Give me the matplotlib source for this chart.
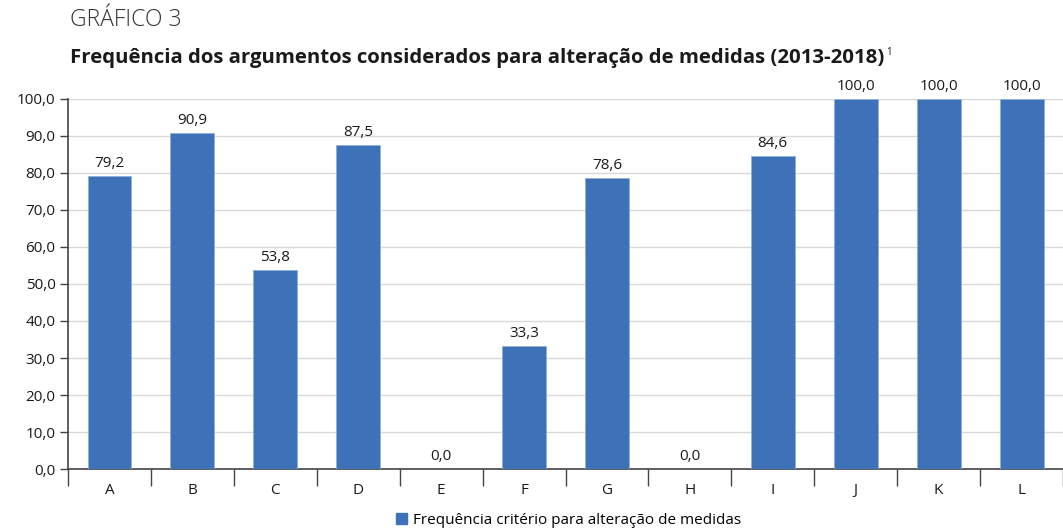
import numpy as np
import matplotlib
matplotlib.use("Agg")
import matplotlib.pyplot as plt
from matplotlib.patches import Patch

categories = ["A", "B", "C", "D", "E", "F", "G", "H", "I", "J", "K", "L"]
values = [79.2, 90.9, 53.8, 87.5, 0.0, 33.3, 78.6, 0.0, 84.6, 100.0, 100.0, 100.0]
yticks = [0, 10, 20, 30, 40, 50, 60, 70, 80, 90, 100]

plt.rcParams['font.family'] = ['Open Sans', 'DejaVu Sans']
bar_color = '#3d72b9'

fig = plt.figure(figsize=(10.63, 5.29), dpi=100)
ax = fig.add_axes([0.064, 0.1134, 0.936, 0.6995])

x = np.arange(len(categories))
ax.bar(x, values, width=0.53, color=bar_color, edgecolor='#8fb0dc', linewidth=0.6, zorder=3)

for xi, v in zip(x, values):
    ax.text(xi, v + 1.3, f"{v:.1f}".replace('.', ','), ha='center', va='bottom',
            fontsize=11, color='#1a1a1a')

ax.set_xlim(-0.5, len(categories) - 0.5)
ax.set_ylim(0, 100)
ax.set_yticks(yticks)
ax.set_yticklabels([f"{t:.1f}".replace('.', ',') for t in yticks], fontsize=11, color='#1a1a1a')
ax.yaxis.grid(True, color='#d9d9d9', linewidth=1, zorder=0)
ax.set_axisbelow(True)

ax.set_xticks(x)
ax.set_xticklabels(categories, fontsize=11, color='#1a1a1a')
ax.tick_params(axis='x', which='major', length=0, pad=10)
ax.set_xticks(np.arange(len(categories) + 1) - 0.5, minor=True)
ax.tick_params(axis='x', which='minor', length=12, width=1, color='#444444')
ax.tick_params(axis='y', length=6, width=1, color='#444444', pad=3)

for s in ['top', 'right']:
    ax.spines[s].set_visible(False)
for s in ['left', 'bottom']:
    ax.spines[s].set_color('#444444')
    ax.spines[s].set_linewidth(1.2)

fig.text(0.066, 0.962, "GRÁFICO 3", fontsize=16.5, fontweight='light', color='#333333', va='center')
title = fig.text(0.066, 0.89, "Frequência dos argumentos considerados para alteração de medidas (2013-2018)",
                 fontsize=14.7, fontweight='bold', color='#1a1a1a', va='center')
ax.annotate("1", xy=(1, 0.78), xycoords=title, xytext=(1.5, 0), textcoords='offset points',
            fontsize=7, color='#1a1a1a', va='center', ha='left', annotation_clip=False)

fig.legend(handles=[Patch(color=bar_color, label="Frequência critério para alteração de medidas")],
           loc='center', bbox_to_anchor=(0.535, 0.017), frameon=False, fontsize=11,
           handlelength=0.7, handleheight=0.7, handletextpad=0.4)

fig.savefig("out.png", dpi=100)
